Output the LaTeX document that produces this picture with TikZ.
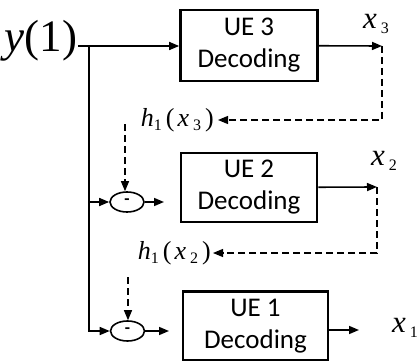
\documentclass[tikz,border=0pt]{standalone}
\usepackage{fontspec}
\setmainfont{Carlito}
\newfontfamily\tnr{Liberation Serif}
\usetikzlibrary{shapes.geometric,arrows.meta}
\newcommand\lowidx[2]{\raisebox{-#1}{\fontsize{16}{16}\selectfont\upshape #2}}
\newcommand\xlab[1]{{\tnr\fontsize{31}{31}\selectfont\textit{x}\hspace{4pt}\lowidx{5pt}{#1}}}
\newcommand\hlab[1]{{\tnr\fontsize{26}{26}\selectfont
	\textit{h}\lowidx{4pt}{1}\hspace{4pt}(\hspace{3pt}\textit{x}\hspace{4pt}\lowidx{4pt}{#1}\hspace{4pt})}}

\begin{document}
\begin{tikzpicture}[x=1pt,y=-1pt,
	decbox/.style={draw,line width=2.6pt,align=center,inner sep=0pt,
		font=\fontsize{27}{32}\selectfont},
	minus/.style={draw,ellipse,line width=1.6pt,minimum width=34pt,minimum height=20pt,
		inner sep=0pt,font=\bfseries\fontsize{17}{17}\selectfont},
	arr/.style={line width=1.6pt,-{Triangle[length=10pt,width=8pt]}},
	fb/.style={line width=1.1pt,dash pattern=on 7pt off 4pt,-{Triangle[length=10pt,width=8pt]}}]
	\useasboundingbox (0,0) rectangle (418,361);

	\node[inner sep=1pt] (y1) at (41,41) {\tnr\fontsize{45}{45}\selectfont\textit{y}(1)};
	\node[decbox,minimum width=137pt,minimum height=71pt] (dec3) at (249,45.5) {UE 3\\Decoding};
	\node[decbox,minimum width=136pt,minimum height=69pt] (dec2) at (249,187.5) {UE 2\\Decoding};
	\node[decbox,minimum width=145pt,minimum height=69pt] (dec1) at (255.5,326) {UE 1\\Decoding};
	\node[minus] (sub2) at (127,202) {-};
	\node[minus] (sub1) at (127.5,331) {-};

	\node (x3) at (376,24) {\xlab{3}};
	\node (x2) at (384,161) {\xlab{2}};
	\node (x1) at (405,328) {\xlab{1}};
	\node[anchor=east,inner sep=4pt] (h3) at (218,120) {\hlab{3}};
	\node[anchor=east,inner sep=2pt] (h2) at (213,253) {\hlab{2}};

	\coordinate (split) at (89,46);
	\coordinate (t3) at (382,46);
	\coordinate (t2) at (377,187);
	\coordinate (t1) at (359,330);
	\coordinate (in2) at (164,202);
	\coordinate (in1) at (169,331);
	\coordinate (f3) at (125,124);
	\coordinate (f2) at (128,277);

	\draw[arr] (y1.east |- split) -- (dec3.west |- split);
	\draw[arr] (split) |- (sub1.west);
	\draw[arr] (split |- sub2.west) -- (sub2.west);
	\draw[arr] (sub2.east) -- (in2);
	\draw[arr] (sub1.east) -- (in1);
	\draw[arr] (dec3) -- (t3);
	\draw[arr] (dec2) -- (t2);
	\draw[arr] (dec1.east |- t1) -- (t1);

	\draw[fb] (t3) |- (h3.east);
	\draw[fb] (t2) |- (h2.east);
	\draw[fb] (f3) -- (f3 |- sub2.north);
	\draw[fb] (f2) -- (f2 |- sub1.north);
\end{tikzpicture}
\end{document}
